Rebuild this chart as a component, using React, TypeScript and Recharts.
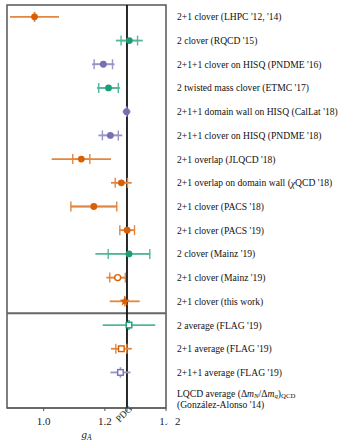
import React from "react";
import {
  ScatterChart,
  Scatter,
  XAxis,
  YAxis,
  ErrorBar,
  ReferenceLine,
  ReferenceArea,
} from "recharts";

document.body.style.margin = "0";

// one row per calculation, top to bottom
const rowLabels = [
  "2+1 clover (LHPC '12, '14)",
  "2 clover (RQCD '15)",
  "2+1+1 clover on HISQ (PNDME '16)",
  "2 twisted mass clover (ETMC '17)",
  "2+1+1 domain wall on HISQ (CalLat '18)",
  "2+1+1 clover on HISQ (PNDME '18)",
  "2+1 overlap (JLQCD '18)",
  "2+1 overlap on domain wall (χQCD '18)",
  "2+1 clover (PACS '18)",
  "2+1 clover (PACS '19)",
  "2 clover (Mainz '19)",
  "2+1 clover (Mainz '19)",
  "2+1 clover (this work)",
  "2 average (FLAG '19)",
  "2+1 average (FLAG '19)",
  "2+1+1 average (FLAG '19)",
  "LQCD average",
];
const gA = [0.97, 1.28, 1.195, 1.212, 1.271, 1.218, 1.123, 1.254, 1.164, 1.273, 1.279, 1.242, 1.265, 1.279, 1.254, 1.251];
const statLo = [0, 0.027, 0.03, 0.032, 0, 0.026, 0.028, 0.02, 0.075, 0.024, 0.068, 0.026, 0, 0, 0.018, 0];
const statHi = [0, 0.027, 0.03, 0.032, 0, 0.026, 0.028, 0.02, 0.075, 0.024, 0.068, 0.025, 0, 0, 0.018, 0];
const totLo = [0.08, 0.044, 0.037, 0.038, 0.013, 0.039, 0.097, 0.034, 0.076, 0.026, 0.11, 0.037, 0.049, 0.086, 0.034, 0.033];
const totHi = [0.08, 0.044, 0.037, 0.038, 0.013, 0.039, 0.097, 0.034, 0.076, 0.026, 0.07, 0.025, 0.049, 0.086, 0.034, 0.033];
const PDG = 1.2724;
const xTicks = [1.0, 1.2, PDG, 1.4];
const rowTicks = rowLabels.map((_, i) => i + 1);

const ORANGE = "#d95f02";
const GREEN = "#1b9e77";
const PURPLE = "#7570b3";
const BAR = { [ORANGE]: "#e28741", [GREEN]: "#54b699", [PURPLE]: "#9894c6" };
const FONT = "Liberation Serif";
const LABEL_SIZE = 9.6;

const groups = [
  { rows: [0, 6, 7, 8, 9], color: ORANGE, marker: "dot" },
  { rows: [1, 3, 10], color: GREEN, marker: "dot" },
  { rows: [2, 4, 5], color: PURPLE, marker: "dot" },
  { rows: [11], color: ORANGE, marker: "ring" },
  { rows: [12], color: ORANGE, marker: "star" },
  { rows: [13], color: GREEN, marker: "square" },
  { rows: [14], color: ORANGE, marker: "square" },
  { rows: [15], color: PURPLE, marker: "square" },
];

function makeShape(marker: string, color: string) {
  return (p: any) => {
    const { cx, cy } = p;
    if (marker === "ring")
      return <circle cx={cx} cy={cy} r={3} fill="#fff" stroke={color} strokeWidth={1.4} />;
    if (marker === "square")
      return <rect x={cx - 2.8} y={cy - 2.8} width={5.6} height={5.6} fill="#fff" stroke={color} strokeWidth={1.4} />;
    if (marker === "star") {
      const pts = [];
      for (let k = 0; k < 10; k++) {
        const r = k % 2 === 0 ? 5.2 : 2.2;
        const a = -Math.PI / 2 + (k * Math.PI) / 5;
        pts.push(`${cx + r * Math.cos(a)},${cy + r * Math.sin(a)}`);
      }
      return <polygon points={pts.join(" ")} fill={color} />;
    }
    return <circle cx={cx} cy={cy} r={3.4} fill={color} />;
  };
}

function XTick({ x, y, payload }: any) {
  const v = payload.value;
  if (Math.abs(v - PDG) < 1e-6) {
    return (
      <text x={x - 3} y={y + 1} transform={`rotate(-45 ${x - 3} ${y + 1})`} textAnchor="middle"
        dominantBaseline="central" fontSize={9.5} fontFamily={FONT} fill="#222">
        PDG
      </text>
    );
  }
  const txt = v.toFixed(1);
  if (v === 1.4) {
    return (
      <g>
        <defs>
          <clipPath id="clip14">
            <rect x={x - 12} y={y} width={14} height={18} />
          </clipPath>
        </defs>
        <text x={x} y={y + 12} textAnchor="middle" fontSize={11} fontFamily={FONT} fill="#222" clipPath="url(#clip14)">
          {txt}
        </text>
        <text x={x + 9} y={y + 12} fontSize={11} fontFamily={FONT} fill="#222">2</text>
      </g>
    );
  }
  return (
    <text x={x} y={y + 12} textAnchor="middle" fontSize={11} fontFamily={FONT} fill="#222">
      {txt}
    </text>
  );
}

function RowTick({ x, y, payload }: any) {
  const i = payload.value - 1;
  const lx = x + 11;
  const label = rowLabels[i];
  if (i === 16) {
    return (
      <g fontFamily={FONT} fontSize={LABEL_SIZE} fill="#111">
        <text x={lx} y={y - 3} dominantBaseline="central">
          {label} (Δ<tspan fontStyle="italic">m</tspan>
          <tspan fontSize={6.8} fontStyle="italic" dy={2}>N</tspan>
          <tspan dy={-2}>/Δ</tspan>
          <tspan fontStyle="italic">m</tspan>
          <tspan fontSize={6.8} fontStyle="italic" dy={2}>q</tspan>
          <tspan dy={-2}>)</tspan>
          <tspan fontSize={6.8} dy={2}>QCD</tspan>
        </text>
        <text x={lx} y={y + 8.6} dominantBaseline="central">(González-Alonso '14)</text>
      </g>
    );
  }
  const parts = label.split("χ");
  return (
    <text x={lx} y={y} dominantBaseline="central" fontFamily={FONT} fontSize={LABEL_SIZE} fill="#111">
      {parts[0]}
      {parts.length > 1 && <tspan fontStyle="italic">χ</tspan>}
      {parts.length > 1 && parts[1]}
    </text>
  );
}

function AxisTitle({ viewBox }: any) {
  const cx = viewBox.x + viewBox.width / 2;
  return (
    <text x={cx} y={viewBox.y + 30} textAnchor="middle" fontFamily={FONT} fontSize={11} fill="#222">
      <tspan fontStyle="italic">g</tspan>
      <tspan fontSize={7.5} fontStyle="italic" dy={2}>A</tspan>
    </text>
  );
}

export default function App() {
  return (
    <ScatterChart width={346} height={442} margin={{ top: 5, right: 0, bottom: 0, left: 7 }}>
      <XAxis
        type="number"
        dataKey="x"
        domain={[0.88, 1.4]}
        allowDataOverflow
        ticks={xTicks}
        interval={0}
        tick={<XTick />}
        tickSize={3}
        tickLine={{ stroke: "#555" }}
        axisLine={{ stroke: "#555" }}
        height={34}
        label={{ content: <AxisTitle /> }}
      />
      <YAxis
        type="number"
        dataKey="y"
        orientation="right"
        domain={[0.5, 17.5]}
        reversed
        allowDataOverflow
        ticks={rowTicks}
        interval={0}
        tick={<RowTick />}
        tickSize={0}
        tickMargin={0}
        tickLine={false}
        axisLine={false}
        width={180}
      />
      <ReferenceArea x1={0.88} x2={1.4} y1={0.5} y2={17.5} fill="none" stroke="#555" strokeWidth={1.5} ifOverflow="visible" />
      <ReferenceLine y={13.5} stroke="#666" strokeWidth={2} ifOverflow="visible" />
      <ReferenceLine x={PDG} stroke="#111" strokeWidth={1.8} />
      {groups.map((g, gi) => (
        <Scatter
          key={gi}
          data={g.rows.map((i) => ({
            x: gA[i],
            y: i + 1,
            tot: [totLo[i], totHi[i]],
            stat: [statLo[i], statHi[i]],
          }))}
          shape={makeShape(g.marker, g.color)}
          isAnimationActive={false}
        >
          <ErrorBar dataKey="tot" direction="x" width={0} stroke={BAR[g.color]} strokeWidth={1.8} />
          <ErrorBar dataKey="stat" direction="x" width={5} stroke={BAR[g.color]} strokeWidth={1.4} />
        </Scatter>
      ))}
    </ScatterChart>
  );
}
